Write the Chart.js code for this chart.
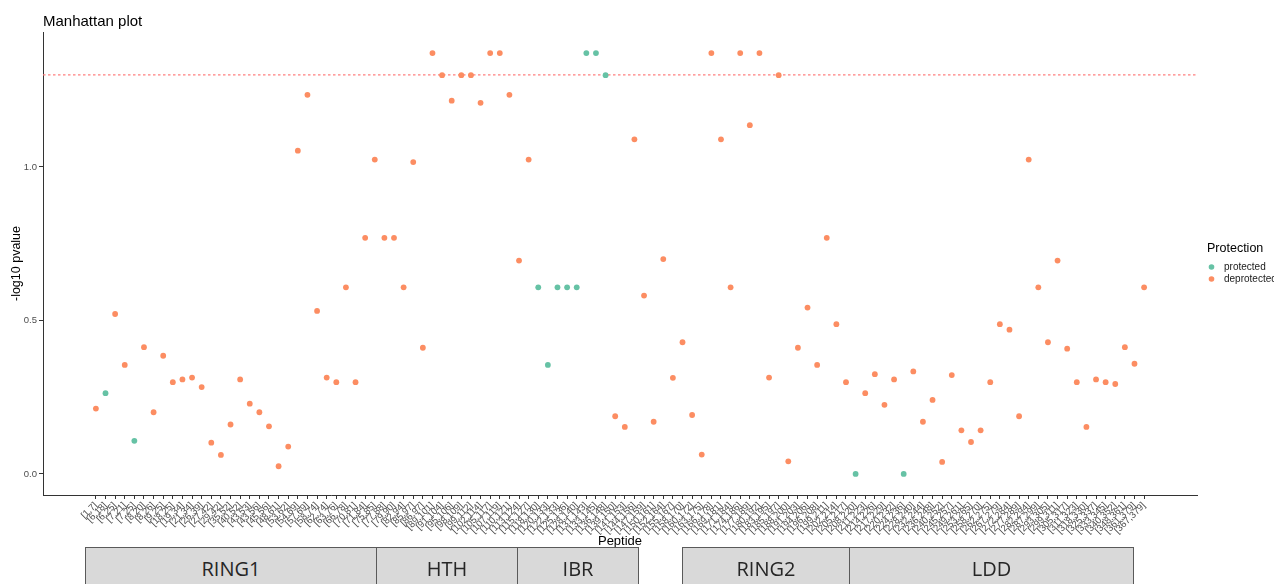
<!DOCTYPE html>
<html>
<head>
<meta charset="utf-8">
<script src="https://cdn.jsdelivr.net/npm/chart.js@4.4.1/dist/chart.umd.min.js"></script>
<style>
  html, body { margin: 0; padding: 0; background: #fff; }
  #wrap { position: relative; width: 1274px; height: 584px; overflow: hidden; }
  #c { position: absolute; left: 0; top: 0; }
  .domain {
    position: absolute; top: 547px; height: 52px; box-sizing: border-box;
    border: 1px solid #5a5a5a; background: #d9d9d9;
    font-family: "Open Sans", "Liberation Sans", sans-serif; font-size: 20px;
    color: #262626; text-align: center; line-height: 42px;
  }
</style>
</head>
<body>
<div id="wrap"><canvas id="c" width="1274" height="584"></canvas></div>
<script>
// Peptides along the sequence (x categories)
const peptides = [
  "[1,7]","[6,18]","[6,25]","[7,21]","[7,25]","[8,20]","[8,26]","[9,25]","[18,25]","[19,34]",
  "[21,34]","[26,39]","[27,42]","[29,42]","[35,52]","[40,52]","[43,53]","[43,56]","[45,56]","[48,61]",
  "[53,62]","[54,69]","[57,69]","[58,74]","[62,74]","[63,76]","[66,78]","[70,81]","[71,84]","[75,85]",
  "[77,88]","[79,90]","[82,94]","[85,97]","[86,97]","[89,101]","[91,104]","[95,106]","[98,109]","[99,112]",
  "[102,114]","[105,117]","[107,119]","[110,121]","[113,124]","[115,127]","[118,130]","[120,133]","[122,133]","[125,136]",
  "[128,140]","[131,143]","[133,145]","[136,148]","[139,150]","[141,153]","[144,156]","[147,159]","[150,161]","[152,164]",
  "[155,167]","[158,170]","[160,172]","[163,175]","[166,178]","[169,181]","[171,184]","[174,186]","[177,189]","[180,192]",
  "[183,195]","[185,197]","[188,200]","[191,203]","[194,206]","[196,208]","[199,211]","[202,214]","[205,217]","[208,220]",
  "[211,223]","[214,226]","[217,229]","[220,232]","[224,236]","[228,240]","[232,244]","[236,248]","[240,252]","[245,257]",
  "[249,261]","[253,265]","[258,270]","[262,275]","[267,279]","[272,284]","[277,289]","[282,294]","[287,299]","[293,305]",
  "[299,311]","[305,317]","[311,323]","[318,330]","[325,337]","[333,345]","[340,352]","[348,361]","[361,379]","[367,379]"
];

// -log10 p-value for each peptide
const logP = [
  0.213,0.263,0.521,0.355,0.108,0.413,0.201,0.385,0.299,0.308,
  0.314,0.283,0.102,0.062,0.161,0.308,0.229,0.201,0.155,0.025,
  0.089,1.053,1.235,0.531,0.314,0.299,0.608,0.299,0.769,1.024,
  0.769,0.769,0.608,1.016,0.411,1.371,1.299,1.216,1.299,1.299,
  1.209,1.371,1.371,1.235,0.695,1.024,0.608,0.355,0.608,0.608,
  0.608,1.371,1.371,1.299,0.188,0.153,1.090,0.581,0.170,0.700,
  0.313,0.429,0.192,0.063,1.371,1.090,0.608,1.371,1.136,1.371,
  0.314,1.299,0.041,0.411,0.542,0.355,0.769,0.488,0.299,0.000,
  0.263,0.325,0.225,0.308,0.000,0.334,0.170,0.241,0.039,0.322,
  0.142,0.104,0.142,0.299,0.488,0.470,0.188,1.024,0.608,0.429,
  0.695,0.408,0.299,0.153,0.308,0.299,0.293,0.413,0.359,0.608
];

// Peptides classified as protected; all others are deprotected
const protectedPeptides = [1, 4, 46, 47, 48, 49, 50, 51, 52, 53, 79, 84];

const yTicks = [0, 0.5, 1.0];
const threshold = 1.3; // -log10(0.05)

// Domain annotation bar, spans given in peptide-index units
const domainNames = ["RING1", "HTH", "IBR", "RING2", "LDD"];
const domainSpans = [[-1.13, 29.1], [29.1, 43.8], [43.8, 56.4], [60.95, 78.3], [78.3, 107.8]];

const COL_PROT = "#66C2A5";
const COL_DEPROT = "#FC8D62";
const FONT = '"Liberation Sans", Arial, sans-serif';

const protData = [], deprotData = [];
logP.forEach((v, i) => {
  (protectedPeptides.includes(i) ? protData : deprotData).push({ x: i, y: v });
});

const decor = {
  id: "decor",
  beforeDatasetsDraw(chart) {
    const { ctx, chartArea: a, scales: { y } } = chart;
    const py = y.getPixelForValue(threshold);
    ctx.save();
    ctx.strokeStyle = "#FF7F7F";
    ctx.lineWidth = 1.4;
    ctx.setLineDash([2.5, 2.5]);
    ctx.beginPath();
    ctx.moveTo(a.left, py);
    ctx.lineTo(a.right, py);
    ctx.stroke();
    ctx.restore();
  },
  afterDraw(chart) {
    const { ctx, chartArea: a } = chart;
    ctx.save();
    ctx.fillStyle = "#000";
    // title
    ctx.font = "15px " + FONT;
    ctx.textAlign = "left";
    ctx.textBaseline = "alphabetic";
    ctx.fillText("Manhattan plot", a.left, 26);
    // x title
    ctx.font = "13px " + FONT;
    ctx.textAlign = "center";
    ctx.textBaseline = "middle";
    ctx.fillText("Peptide", (a.left + a.right) / 2, 541);
    // y title
    ctx.save();
    ctx.translate(17, (a.top + a.bottom) / 2);
    ctx.rotate(-Math.PI / 2);
    ctx.font = "12.5px " + FONT;
    ctx.fillText("-log10 pvalue", 0, 0);
    ctx.restore();
    // legend
    ctx.textAlign = "left";
    ctx.font = "12.5px " + FONT;
    ctx.fillText("Protection", 1207, 249);
    const items = [["protected", COL_PROT, 267], ["deprotected", COL_DEPROT, 279]];
    ctx.font = "10px " + FONT;
    items.forEach(([t, c, yy]) => {
      ctx.fillStyle = c;
      ctx.beginPath();
      ctx.arc(1211.5, yy, 2.8, 0, Math.PI * 2);
      ctx.fill();
      ctx.fillStyle = "#1a1a1a";
      ctx.fillText(t, 1224, yy);
    });
    ctx.restore();
  }
};

const chart = new Chart(document.getElementById("c"), {
  type: "scatter",
  data: {
    datasets: [
      { label: "protected", data: protData, backgroundColor: COL_PROT, borderWidth: 0, pointRadius: 2.9, pointHoverRadius: 2.9 },
      { label: "deprotected", data: deprotData, backgroundColor: COL_DEPROT, borderWidth: 0, pointRadius: 2.9, pointHoverRadius: 2.9 }
    ]
  },
  options: {
    responsive: false,
    animation: false,
    devicePixelRatio: 1,
    layout: { padding: { top: 32, right: 77, left: 0, bottom: 0 } },
    plugins: { legend: { display: false }, tooltip: { enabled: false }, title: { display: false } },
    scales: {
      x: {
        type: "linear",
        min: -5.5,
        max: peptides.length - 1 + 5.5,
        afterBuildTicks: s => { s.ticks = peptides.map((_, i) => ({ value: i })); },
        afterFit: s => { s.height = 89; },
        border: { display: true, color: "#333", width: 1 },
        grid: { display: true, drawOnChartArea: false, drawTicks: true, tickLength: 4, color: "#333" },
        ticks: {
          autoSkip: false, maxRotation: 45, minRotation: 45, padding: 1,
          color: "#4d4d4d", font: { family: FONT, size: 9.5 },
          callback: v => peptides[v]
        }
      },
      y: {
        min: -0.0686,
        max: 1.4396,
        afterBuildTicks: s => { s.ticks = yTicks.map(v => ({ value: v })); },
        afterFit: s => { s.width = 43; },
        border: { display: true, color: "#333", width: 1 },
        grid: { display: true, drawOnChartArea: false, drawTicks: true, tickLength: 4, color: "#333" },
        ticks: {
          padding: 2, color: "#4d4d4d", font: { family: FONT, size: 9.5 },
          callback: v => Number(v).toFixed(1)
        }
      }
    }
  },
  plugins: [decor]
});

// domain annotation boxes under the axis
const wrap = document.getElementById("wrap");
domainNames.forEach((name, k) => {
  const [a, b] = domainSpans[k];
  const x0 = Math.round(chart.scales.x.getPixelForValue(a));
  const x1 = Math.round(chart.scales.x.getPixelForValue(b));
  const d = document.createElement("div");
  d.className = "domain";
  d.style.left = x0 + "px";
  d.style.width = (x1 - x0 + 1) + "px";
  d.textContent = name;
  wrap.appendChild(d);
});
</script>
</body>
</html>
